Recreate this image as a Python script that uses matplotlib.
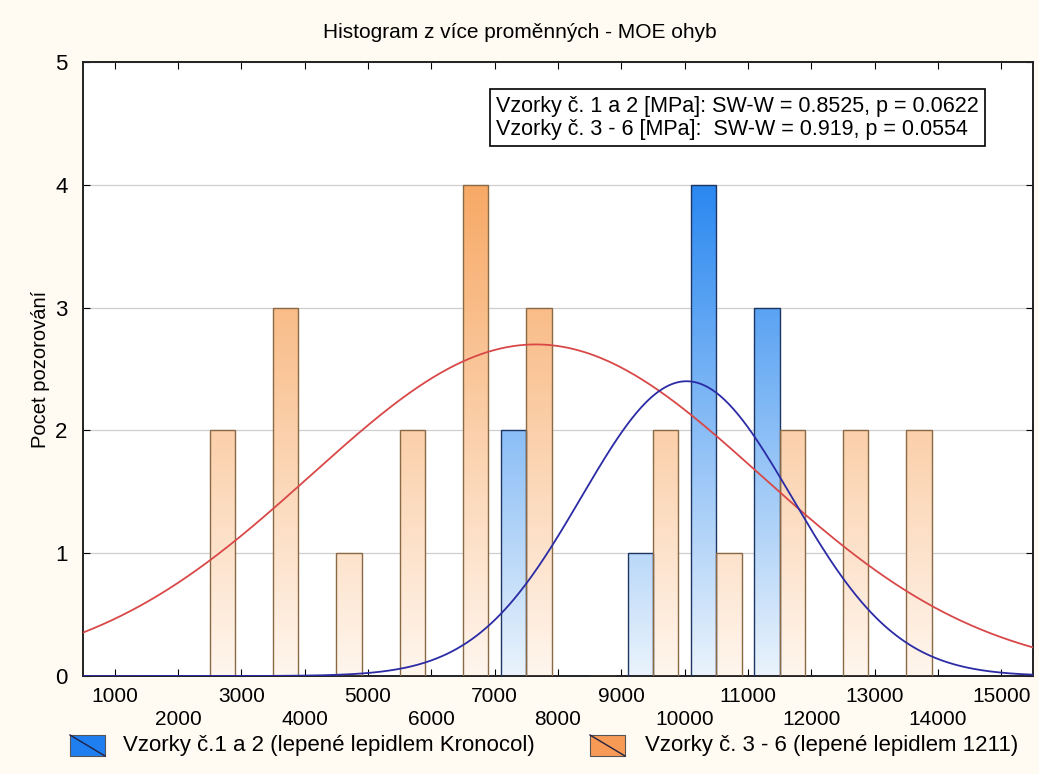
import matplotlib.pyplot as plt
import numpy as np
from matplotlib.colors import LinearSegmentedColormap
from matplotlib.patches import Rectangle
from matplotlib.lines import Line2D

plt.rcParams['font.family'] = ['Liberation Sans', 'DejaVu Sans']

# data
bin_centers = [2500, 3500, 4500, 5500, 6500, 7500, 8500, 9500, 10500, 11500, 12500, 13500]
counts_kronocol = [0, 0, 0, 0, 0, 2, 0, 1, 4, 3, 0, 0]
counts_1211 = [2, 3, 1, 2, 4, 3, 0, 2, 1, 2, 2, 2]
fit_kronocol = (10030, 1662)   # mean, sd of fitted normal curve
fit_1211 = (7650, 3546)
bin_width = 1000

x_ticks = list(range(1000, 16000, 1000))
x_ticklabels = [str(v) if (v // 1000) % 2 == 1 else '\n' + str(v) for v in x_ticks]

title = 'Histogram z více proměnných - MOE ohyb'
ylabel = 'Pocet pozorování'
label_kronocol = 'Vzorky č.1 a 2 (lepené lepidlem Kronocol)'
label_1211 = 'Vzorky č. 3 - 6 (lepené lepidlem 1211)'
stats_text = ('Vzorky č. 1 a 2 [MPa]: SW-W = 0.8525, p = 0.0622\n'
              'Vzorky č. 3 - 6 [MPa]:  SW-W = 0.919, p = 0.0554')

W, H = 1039, 774
fig = plt.figure(figsize=(W / 100, H / 100), dpi=100, facecolor='#fffbf2')
ax = fig.add_axes([83 / W, 1 - 676 / H, (1033 - 83) / W, (676 - 62) / H])
ax.set_facecolor('white')

cmap_blue = LinearSegmentedColormap.from_list('b', ['#eaf3fc', '#2a88f0'])
cmap_orange = LinearSegmentedColormap.from_list('o', ['#fff6ee', '#f7a966'])
grad = np.linspace(0, 1, 256).reshape(-1, 1)

bar_w = 0.4 * bin_width
centers = np.array(bin_centers)
bars_b = ax.bar(centers - bar_w / 2, counts_kronocol, width=bar_w, facecolor='none',
                edgecolor='#1d3563', linewidth=1.0, zorder=3)
bars_o = ax.bar(centers + bar_w / 2, counts_1211, width=bar_w, facecolor='none',
                edgecolor='#8a6a45', linewidth=1.0, zorder=3)

for bars, cmap in [(bars_b, cmap_blue), (bars_o, cmap_orange)]:
    for b in bars:
        if b.get_height() == 0:
            continue
        x0 = b.get_x()
        im = ax.imshow(grad, extent=(x0, x0 + b.get_width(), 0, 4), origin='lower',
                       cmap=cmap, aspect='auto', zorder=2)
        im.set_clip_path(b)

# fitted normal curves
xs = np.linspace(500, 15500, 600)
for (mu, sd), n, col in [(fit_1211, sum(counts_1211), '#d94848'),
                         (fit_kronocol, sum(counts_kronocol), '#2b2ba6')]:
    ys = n * bin_width / (sd * np.sqrt(2 * np.pi)) * np.exp(-0.5 * ((xs - mu) / sd) ** 2)
    ax.plot(xs, ys, color=col, linewidth=1.3, zorder=4)

ax.set_xlim(500, 15500)
ax.set_ylim(0, 5)
ax.set_yticks(range(0, 6))
ax.set_xticks(x_ticks)
ax.set_xticklabels(x_ticklabels, fontsize=15, linespacing=1.25)
ax.tick_params(axis='x', direction='in', top=True, length=5, pad=8)
ax.tick_params(axis='y', direction='in', right=True, length=5, pad=11, labelsize=16)
ax.grid(axis='y', color='#cfcfcf', linewidth=0.9, zorder=1)
ax.set_axisbelow(True)
for s in ax.spines.values():
    s.set_color('#222222')
    s.set_linewidth(1.4)

ax.set_ylabel(ylabel, fontsize=14.5, labelpad=4)
fig.text(0.5, 1 - 33 / H, title, ha='center', va='center', fontsize=15)

ax.text(0.435, 0.909, stats_text, transform=ax.transAxes, fontsize=15.5,
        ha='left', va='center', linespacing=1.12, zorder=6,
        bbox=dict(boxstyle='square,pad=0.3', facecolor='white', edgecolor='black', linewidth=1.2))

# legend at the bottom
for (px, color, label, tx) in [(70, '#1f7ff0', label_kronocol, 123),
                               (590, '#f79a55', label_1211, 645)]:
    r = Rectangle((px / W, 1 - 756 / H), 35 / W, 21 / H, transform=fig.transFigure,
                  facecolor=color, edgecolor='#555555', linewidth=0.8)
    fig.add_artist(r)
    fig.add_artist(Line2D([px / W, (px + 35) / W], [1 - 735 / H, 1 - 756 / H],
                          transform=fig.transFigure, color='#222244', linewidth=1.0))
    fig.text(tx / W, 1 - 746 / H, label, ha='left', va='center', fontsize=16)

fig.savefig('out.png', dpi=100, facecolor=fig.get_facecolor())
